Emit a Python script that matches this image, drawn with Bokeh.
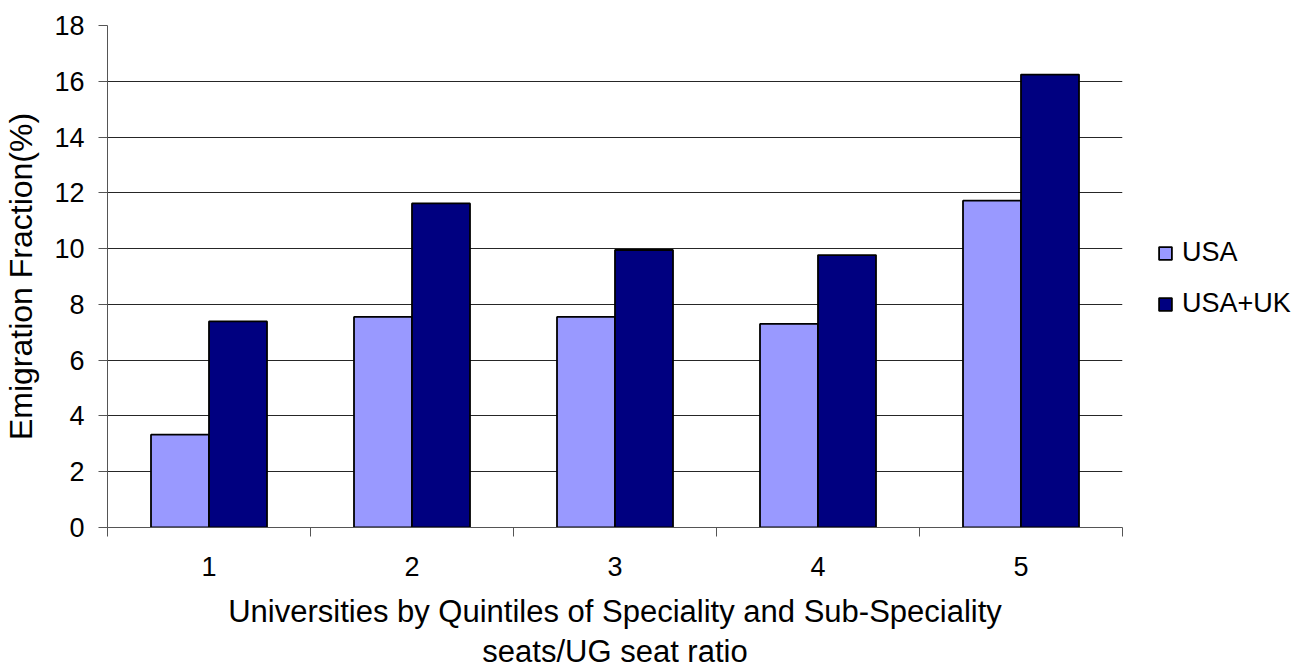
from bokeh.plotting import figure
from bokeh.models import Range1d, FixedTicker, Legend, LegendItem, ColumnDataSource
from bokeh.embed import file_html
from bokeh.resources import INLINE

quintiles = [1, 2, 3, 4, 5]
usa = [3.33, 7.55, 7.55, 7.30, 11.72]
usa_uk = [7.39, 11.62, 9.95, 9.77, 16.24]
series_names = ["USA", "USA+UK"]
y_ticks = [0, 2, 4, 6, 8, 10, 12, 14, 16, 18]

BAR_W = 1 / 3.5
FONT = "Liberation Sans"
AXIS_COL = "#555555"

p = figure(frame_width=1015, frame_height=502, output_backend="svg", toolbar_location=None,
           x_range=Range1d(0.5, 5.5), y_range=Range1d(0, 18),
           min_border_left=107, min_border_top=25, min_border_right=175, min_border_bottom=142)
p.outline_line_color = None
p.background_fill_color = "white"
p.border_fill_color = "white"

src_usa = ColumnDataSource(dict(x=[q - BAR_W / 2 for q in quintiles], top=usa))
src_uk = ColumnDataSource(dict(x=[q + BAR_W / 2 for q in quintiles], top=usa_uk))
r1 = p.vbar(x="x", top="top", width=BAR_W, source=src_usa, fill_color="#9999FF",
            line_color="black", line_width=1.8)
r2 = p.vbar(x="x", top="top", width=BAR_W, source=src_uk, fill_color="#000080",
            line_color="black", line_width=1.8)

# x axis
p.xaxis.ticker = FixedTicker(ticks=quintiles, minor_ticks=[q + 0.5 for q in [0] + quintiles])
p.xaxis.major_tick_out = 0
p.xaxis.major_tick_in = 0
p.xaxis.minor_tick_out = 9
p.xaxis.minor_tick_in = 0
p.xaxis.minor_tick_line_color = AXIS_COL
p.xaxis.axis_line_color = AXIS_COL
p.xaxis.major_label_standoff = 20
p.xaxis.major_label_text_font = FONT
p.xaxis.major_label_text_font_size = "27px"
p.xaxis.major_label_text_color = "black"
p.xaxis.axis_label = "Universities by Quintiles of Speciality and Sub-Speciality\nseats/UG seat ratio"
p.xaxis.axis_label_text_font = FONT
p.xaxis.axis_label_text_font_size = "31px"
p.xaxis.axis_label_text_font_style = "normal"
p.xaxis.axis_label_text_color = "black"
p.xaxis.axis_label_text_line_height = 1.15
p.xaxis.axis_label_standoff = 15

# y axis
p.yaxis.ticker = FixedTicker(ticks=y_ticks, minor_ticks=[])
p.yaxis.major_tick_out = 9
p.yaxis.major_tick_in = 0
p.yaxis.major_tick_line_color = AXIS_COL
p.yaxis.axis_line_color = AXIS_COL
p.yaxis.major_label_standoff = 14
p.yaxis.major_label_text_font = FONT
p.yaxis.major_label_text_font_size = "27px"
p.yaxis.major_label_text_color = "black"
p.yaxis.axis_label = "Emigration Fraction(%)"
p.yaxis.axis_label_text_font = FONT
p.yaxis.axis_label_text_font_size = "32px"
p.yaxis.axis_label_text_font_style = "normal"
p.yaxis.axis_label_text_color = "black"
p.yaxis.axis_label_standoff = 12

p.xgrid.visible = False
p.ygrid.ticker = FixedTicker(ticks=y_ticks)
p.ygrid.grid_line_color = "black"
p.ygrid.grid_line_width = 1
p.ygrid.grid_line_alpha = 0.85

legend = Legend(items=[LegendItem(label=series_names[0], renderers=[r1]),
                       LegendItem(label=series_names[1], renderers=[r2])],
                location=(35, 208))
legend.margin = 0
legend.padding = 0
legend.border_line_color = None
legend.background_fill_alpha = 0
legend.glyph_width = 16
legend.glyph_height = 16
legend.label_height = 30
legend.spacing = 20
legend.label_standoff = 9
legend.label_text_font = FONT
legend.label_text_font_size = "27px"
legend.label_text_color = "black"
p.add_layout(legend, "right")

open("out.html", "w").write(file_html(p, INLINE))
